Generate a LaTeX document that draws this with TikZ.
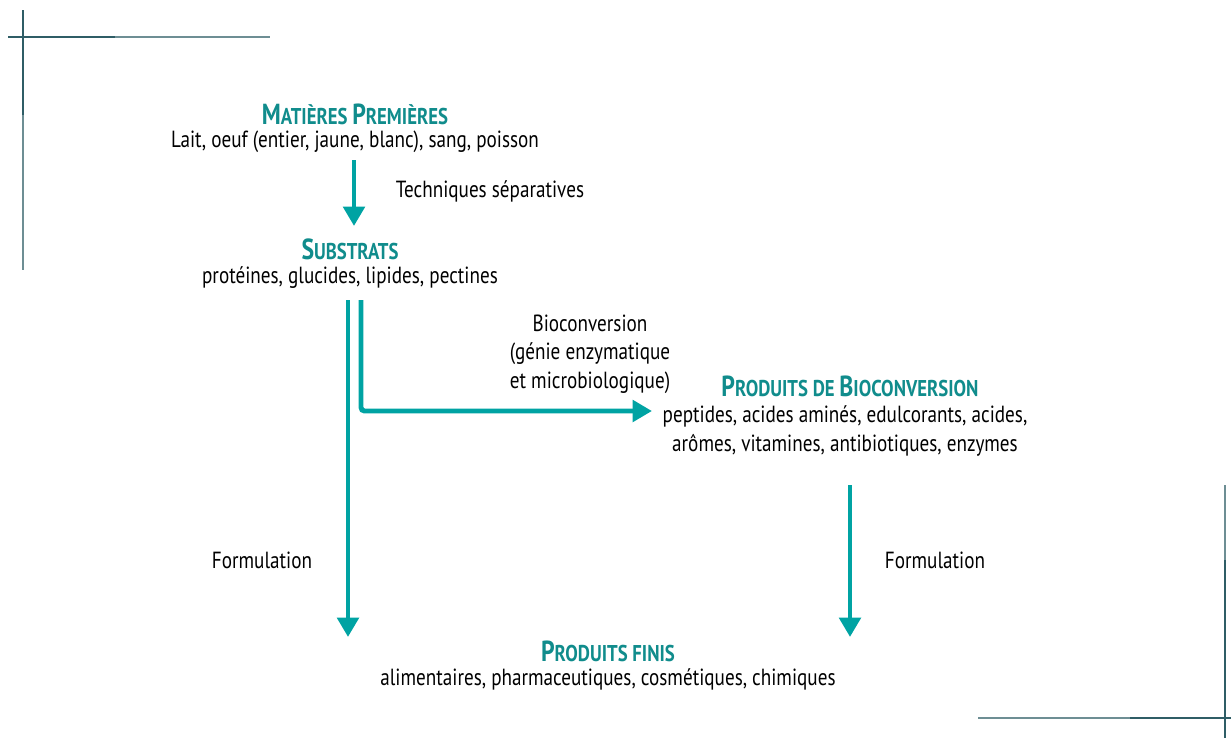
\documentclass[tikz,border=0pt]{standalone}
\usepackage{fontspec}
\setmainfont[FakeStretch=0.82]{PT Sans}
\usepackage{tikz}
\usepackage{xcolor}
\usetikzlibrary{arrows.meta}

\definecolor{fleche}{RGB}{0,163,163}
\definecolor{titre}{RGB}{16,140,140}
\definecolor{cadre}{RGB}{47,93,102}

\newcommand{\grand}[1]{{\fontsize{16.5}{18}\selectfont #1}}

\tikzset{
    titre/.style={font=\fontsize{13}{15}\selectfont\bfseries, text=titre, inner sep=0pt},
    texte/.style={font=\fontsize{13.3}{16.3}\selectfont, inner sep=0pt, align=center},
    fl/.style={draw=fleche, line width=2.8pt, -{Triangle[length=11pt, width=12pt]}}
}

\begin{document}
\begin{tikzpicture}[x=0.02cm, y=-0.02cm]
                \useasboundingbox (0, 0) rectangle (1231, 738);

                % coins
                \draw[cadre, line width=1.2pt] (8, 37) -- (115, 37) (23, 10) -- (23, 115);
                \draw[cadre!70, line width=0.9pt] (115, 37) -- (270, 37) (23, 115) -- (23, 270);
                \draw[cadre, line width=1.2pt] (1130, 718) -- (1231, 718) (1225, 560) -- (1225, 738);
                \draw[cadre!70, line width=0.9pt] (978, 718) -- (1130, 718) (1225, 485) -- (1225, 560);

                \node[titre] (mp_t) at (355, 114) {\grand{M}ATIÈRES \grand{P}REMIÈRES};
                \node[texte] (mp_l) at (355, 142) {Lait, oeuf (entier, jaune, blanc), sang, poisson};
                \node[texte] (ts) at (490, 191) {Techniques séparatives};

                \node[titre] (sub_t) at (350, 249) {\grand{S}UBSTRATS};
                \node[texte] (sub_l) at (350, 278) {protéines, glucides, lipides, pectines};

                \node[texte] (bio) at (590, 354) {Bioconversion\\(génie enzymatique\\et microbiologique)};

                \node[titre] (pb_t) at (850, 386) {\grand{P}RODUITS DE \grand{B}IOCONVERSION};
                \node[texte] (pb_l) at (845, 431) {peptides, acides aminés, edulcorants, acides,\\arômes, vitamines, antibiotiques, enzymes};

                \node[texte] (f_g) at (262, 560) {Formulation};
                \node[texte] (f_d) at (935, 560) {Formulation};

                \node[titre] (pf_t) at (608, 651) {\grand{P}RODUITS FINIS};
                \node[texte] (pf_l) at (608, 679) {alimentaires, pharmaceutiques, cosmétiques, chimiques};

                \coordinate (c_a) at (354, 160);
                \coordinate (c_b) at (354, 226);
                \coordinate (c_c) at (348, 300);
                \coordinate (c_d) at (348, 637);
                \coordinate (c_e) at (361, 300);
                \coordinate (c_f) at (361, 411);
                \coordinate (c_g) at (652, 411);
                \coordinate (c_h) at (850, 485);
                \coordinate (c_i) at (850, 637);

                \draw[fl] (c_a) -- (c_b);
                \draw[fl] (c_c) -- (c_d);
                \draw[fl, rounded corners=2pt] (c_e) -- (c_f) -- (c_g);
                \draw[fl] (c_h) -- (c_i);
            \end{tikzpicture}
\end{document}
